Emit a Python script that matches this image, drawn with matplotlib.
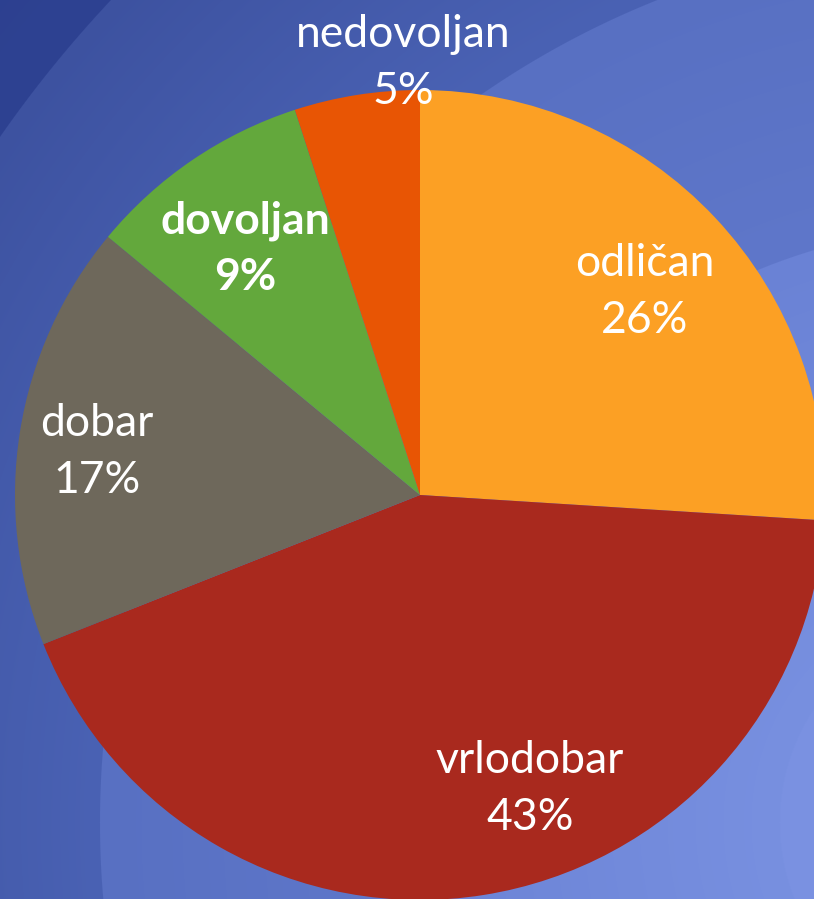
import numpy as np
import matplotlib.pyplot as plt
from matplotlib.colors import to_rgb

# ocjene i udjeli (%)
ocjene = ['odličan', 'vrlodobar', 'dobar', 'dovoljan', 'nedovoljan']
udjeli = [26, 43, 17, 9, 5]
boje = ['#FCA024', '#A9291E', '#6E685B', '#63A83C', '#E85504']
podebljano = [False, False, False, True, False]

# polozaji natpisa u pikselima (od gornjeg ruba)
natpis_x = [645, 530, 97, 245, 403]
natpis_y = [292, 789, 452, 249, 63]

W, H = 814, 899

# pozadina: radijalni prijelaz u prstenovima oko donjeg desnog kuta
cx, cy = 985, 822
poz = [0, 205, 206, 597, 598, 885, 886, 1200, 1201, 1500]
boje_poz = ['#7F96E5', '#7A91E1', '#7890E0', '#6A82D5', '#5F77CA', '#5870C2',
            '#4A62B4', '#3D52A0', '#2E4292', '#2A3D8C']
yy, xx = np.mgrid[0:H, 0:W]
d = np.hypot(xx - cx, yy - cy)
rgb = np.array([to_rgb(c) for c in boje_poz])
img = np.dstack([np.interp(d, poz, rgb[:, k]) for k in range(3)])

fig = plt.figure(figsize=(W / 100, H / 100), dpi=100)
ax = fig.add_axes([0, 0, 1, 1])
ax.imshow(img, extent=(0, W, 0, H), origin='upper', zorder=0, interpolation='bilinear')

ax.pie(udjeli, colors=boje, startangle=90, counterclock=False,
       center=(420, H - 495), radius=405,
       wedgeprops=dict(linewidth=0, zorder=2))

for i in range(len(ocjene)):
    ax.text(natpis_x[i], H - natpis_y[i], f'{ocjene[i]}\n{udjeli[i]}%',
            ha='center', va='center', color='white', fontsize=32,
            family='Lato', fontweight='bold' if podebljano[i] else 'normal',
            linespacing=1.5, zorder=3)

ax.set_xlim(0, W)
ax.set_ylim(0, H)
ax.set_aspect('auto')
ax.axis('off')
fig.savefig('out.png', dpi=100)
